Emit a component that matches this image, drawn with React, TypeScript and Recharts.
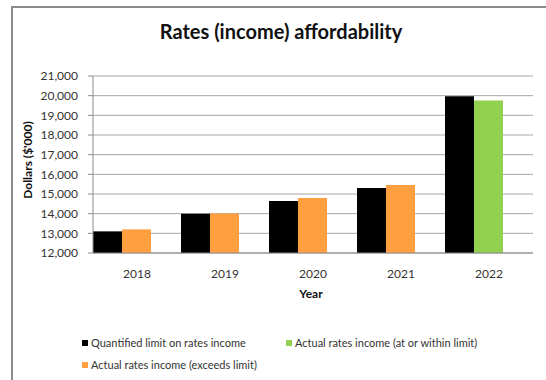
import { BarChart, Bar, XAxis, YAxis, CartesianGrid, Cell } from "recharts";

const YEARS = ["2018", "2019", "2020", "2021", "2022"];
const LIMIT_VALUES = [13100, 14000, 14650, 15300, 19970];
const ACTUAL_VALUES = [13200, 14010, 14800, 15460, 19750];
const Y_TICKS = [12000, 13000, 14000, 15000, 16000, 17000, 18000, 19000, 20000, 21000];

const BLACK = "#000000";
const ORANGE = "#FF9F40";
const GREEN = "#92D050";
const FONT = "Lato, 'Open Sans', sans-serif";

const data = YEARS.map((year, i) => ({
  year,
  limit: LIMIT_VALUES[i],
  actual: ACTUAL_VALUES[i],
}));

const LEGEND = [
  { label: "Quantified limit on rates income", color: BLACK, left: 82, top: 336 },
  { label: "Actual rates income (at or within limit)", color: GREEN, left: 286, top: 336 },
  { label: "Actual rates income (exceeds limit)", color: ORANGE, left: 82, top: 358 },
];

function formatTick(v: number): string {
  return v.toLocaleString("en-US");
}

export default function App() {
  return (
    <div
      style={{
        position: "absolute",
        left: 0,
        top: 0,
        width: 546,
        height: 380,
        overflow: "hidden",
        background: "#fff",
        fontFamily: FONT,
      }}
    >
      {/* chart frame, only top and left edges show */}
      <div
        style={{
          position: "absolute",
          left: 11,
          top: 6,
          width: 600,
          height: 420,
          borderTop: "2px solid #8c8c8c",
          borderLeft: "2px solid #8c8c8c",
        }}
      />
      <div
        style={{
          position: "absolute",
          left: 0,
          top: 19,
          width: 562,
          textAlign: "center",
          fontSize: 20,
          fontWeight: 700,
          color: "#111",
        }}
      >
        Rates (income) affordability
      </div>
      <div
        style={{
          position: "absolute",
          left: 27,
          top: 160,
          transform: "translate(-50%, -50%) rotate(-90deg)",
          whiteSpace: "nowrap",
          fontSize: 12,
          fontWeight: 700,
          color: "#111",
        }}
      >
        Dollars ($'000)
      </div>
      <div
        style={{
          position: "absolute",
          left: 311,
          top: 293,
          transform: "translate(-50%, -50%)",
          fontSize: 12,
          fontWeight: 700,
          color: "#111",
        }}
      >
        Year
      </div>

      <div style={{ position: "absolute", left: 0, top: 0 }}>
        <BarChart
          width={546}
          height={380}
          data={data}
          margin={{ top: 76, right: 13, bottom: 97, left: 33 }}
          barCategoryGap={0}
          barGap={0}
        >
          <CartesianGrid vertical={false} stroke="#a6a6a6" strokeWidth={1} />
          <XAxis
            dataKey="year"
            tickLine={false}
            axisLine={{ stroke: "#8c8c8c" }}
            tick={{ fontSize: 12, fill: "#333", fontFamily: FONT }}
            tickMargin={10}
            height={30}
          />
          <YAxis
            width={60}
            domain={[12000, 21000]}
            ticks={Y_TICKS}
            interval={0}
            tickFormatter={formatTick}
            tickSize={5}
            tickMargin={10}
            tickLine={{ stroke: "#8c8c8c" }}
            axisLine={{ stroke: "#8c8c8c" }}
            tick={{ fontSize: 12, fill: "#333", fontFamily: FONT }}
          />
          <Bar dataKey="limit" fill={BLACK} isAnimationActive={false} />
          <Bar dataKey="actual" isAnimationActive={false}>
            {data.map((d) => (
              <Cell key={d.year} fill={d.actual > d.limit ? ORANGE : GREEN} />
            ))}
          </Bar>
          {/* empty third slot, Excel leaves it blank */}
          <Bar dataKey="spare" fill="none" legendType="none" isAnimationActive={false} />
        </BarChart>
      </div>

      {LEGEND.map((item) => (
        <div
          key={item.label}
          style={{
            position: "absolute",
            left: item.left,
            top: item.top,
            display: "flex",
            alignItems: "center",
            fontSize: 11,
            color: "#333",
            whiteSpace: "nowrap",
          }}
        >
          <span
            style={{
              display: "inline-block",
              width: 6,
              height: 6,
              background: item.color,
              marginRight: 3,
            }}
          />
          {item.label}
        </div>
      ))}
    </div>
  );
}
